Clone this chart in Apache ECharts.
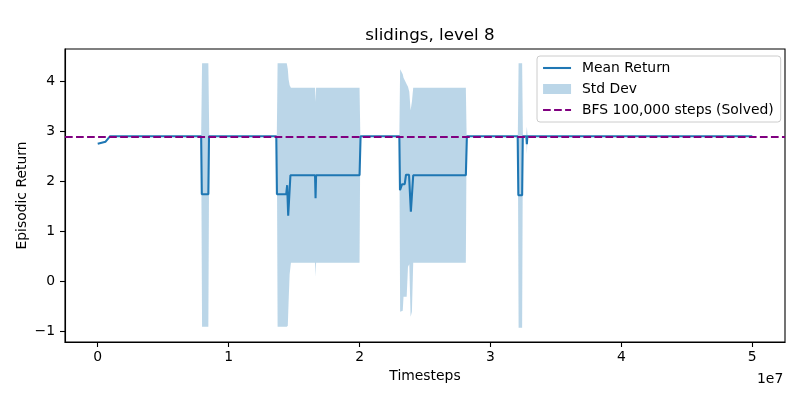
<!DOCTYPE html>
<html>
<head>
<meta charset="utf-8">
<script src="https://cdn.jsdelivr.net/npm/echarts@6/dist/echarts.min.js"></script>
<style>html,body{margin:0;padding:0;background:#fff}#c{width:800px;height:400px}</style>
</head>
<body>
<div id="c"></div>
<script>
// ---- data ----
const meanX = [0, 0.3e6, 0.6e6, 0.75e6, 0.95e6,
  7.90e6, 7.95e6, 8.45e6, 8.50e6,
  13.64e6, 13.69e6, 14.40e6, 14.47e6, 14.55e6, 14.72e6, 16.60e6, 16.64e6, 16.68e6, 20.00e6, 20.08e6,
  23.04e6, 23.09e6, 23.20e6, 23.25e6, 23.45e6, 23.55e6, 23.78e6, 23.92e6, 24.10e6, 28.12e6, 28.20e6,
  32.08e6, 32.13e6, 32.42e6, 32.47e6, 32.74e6, 32.78e6, 32.82e6, 50.0e6];
const meanY = [2.76, 2.78, 2.80, 2.82, 2.91,
  2.91, 1.75, 1.75, 2.91,
  2.91, 1.75, 1.75, 1.93, 1.32, 2.13, 2.13, 1.67, 2.13, 2.13, 2.91,
  2.91, 1.83, 1.83, 1.95, 1.95, 2.14, 2.14, 1.40, 2.13, 2.13, 2.91,
  2.91, 1.73, 1.73, 2.91, 2.91, 2.75, 2.91, 2.91];

const bandX = [0, 0.95e6,
  7.90e6, 7.97e6, 8.45e6, 8.52e6,
  13.68e6, 13.74e6, 14.44e6, 14.52e6, 14.58e6, 14.66e6, 14.76e6, 16.60e6, 16.64e6, 16.68e6, 20.00e6, 20.06e6,
  23.04e6, 23.10e6, 23.30e6, 23.36e6, 23.60e6, 23.70e6, 23.80e6, 23.90e6, 24.00e6, 24.10e6, 28.12e6, 28.18e6,
  32.09e6, 32.15e6, 32.42e6, 32.48e6, 32.72e6, 32.78e6, 32.84e6, 50.0e6];
const bandLow = [2.76, 2.91,
  2.91, -0.90, -0.90, 2.91,
  2.91, -0.90, -0.90, -0.88, -0.40, 0.15, 0.38, 0.38, 0.10, 0.38, 0.38, 2.91,
  2.91, -0.60, -0.58, -0.30, -0.30, 0.30, 0.35, -0.70, -0.60, 0.38, 0.38, 2.91,
  2.91, -0.92, -0.92, 2.91, 2.91, 2.55, 2.91, 2.91];
const bandHigh = [2.76, 2.91,
  2.91, 4.37, 4.37, 2.91,
  2.91, 4.37, 4.37, 4.25, 4.05, 3.93, 3.88, 3.88, 3.60, 3.88, 3.88, 2.91,
  2.91, 4.25, 4.15, 4.08, 3.95, 3.90, 3.80, 3.43, 3.60, 3.88, 3.88, 2.91,
  2.91, 4.37, 4.37, 2.91, 2.91, 3.10, 2.91, 2.91];

const bfsValue = 2.89;
const xTicks = [0, 1e7, 2e7, 3e7, 4e7, 5e7];
const yTicks = [-1, 0, 1, 2, 3, 4];

// ---- build ----
const meanData = meanX.map((x, i) => [x, meanY[i]]);
const bandData = bandX.map((x, i) => [x, bandLow[i], bandHigh[i]]);

const FONT = 'DejaVu Sans';
const LW = 2.08;           // 1.5pt at 100 dpi
const DASH = [7.7, 3.33];  // matplotlib '--' scaled by lw
const BAND = 'rgba(31,119,180,0.3)';

function renderBand(params, api) {
  if (params.dataIndex !== 0) return null;
  const upper = [], lower = [];
  for (let i = 0; i < bandData.length; i++) {
    const x = api.value(0, i);
    upper.push(api.coord([x, api.value(2, i)]));
    lower.push(api.coord([x, api.value(1, i)]));
  }
  const pts = upper.concat(lower.reverse());
  return {
    type: 'polygon',
    shape: {points: pts},
    style: {fill: BAND, stroke: null},
    silent: true
  };
}

const chart = echarts.init(document.getElementById('c'), null, {renderer: 'canvas'});
chart.setOption({
  animation: false,
  backgroundColor: '#fff',
  title: [
    {text: 'slidings, level 8', left: 425, textAlign: 'center', top: 22,
     textStyle: {fontFamily: FONT, fontSize: 16.7, fontWeight: 'normal', color: '#000'}},
    {text: '1e7', left: 752, top: 367,
     textStyle: {fontFamily: FONT, fontSize: 13.9, fontWeight: 'normal', color: '#000'}}
  ],
  grid: {left: 65, right: 15, top: 49, bottom: 58, show: true, borderColor: '#000', borderWidth: 1.1, containLabel: false},
  legend: {
    orient: 'vertical', left: 537, top: 56,
    padding: [4, 7, 4, 5], itemGap: 5, itemWidth: 28, itemHeight: 10,
    backgroundColor: 'rgba(255,255,255,0.8)', borderColor: '#cccccc', borderWidth: 1, borderRadius: 3,
    textStyle: {fontFamily: FONT, fontSize: 13.9, color: '#000', padding: [0, 0, 0, 6], lineHeight: 16},
    data: [
      {name: 'Mean Return', itemStyle: {opacity: 0}, lineStyle: {color: '#1f77b4', width: LW}},
      {name: 'Std Dev', icon: 'rect', itemStyle: {color: BAND}},
      {name: 'BFS 100,000 steps (Solved)', itemStyle: {opacity: 0}, lineStyle: {type: DASH, color: '#800080', width: LW}}
    ]
  },
  xAxis: {
    type: 'value', min: -2.5e6, max: 5.25e7,
    name: 'Timesteps', nameLocation: 'middle', nameGap: 27, nameMoveOverlap: false,
    nameTextStyle: {fontFamily: FONT, fontSize: 13.9, color: '#000'},
    axisLine: {show: true, onZero: false, lineStyle: {color: '#000', width: 1.1}},
    axisTick: {show: true, length: 5, lineStyle: {color: '#000', width: 1.1}, customValues: xTicks},
    axisLabel: {fontFamily: FONT, fontSize: 13.9, color: '#000', margin: 8, customValues: xTicks,
      formatter: v => String(Math.round(v / 1e7))},
    splitLine: {show: false}
  },
  yAxis: {
    type: 'value', min: -1.206, max: 4.654,
    name: 'Episodic Return', nameLocation: 'middle', nameGap: 36, nameRotate: 90, nameMoveOverlap: false,
    nameTextStyle: {fontFamily: FONT, fontSize: 13.9, color: '#000'},
    axisLine: {show: true, onZero: false, lineStyle: {color: '#000', width: 1.1}},
    axisTick: {show: true, length: 5, lineStyle: {color: '#000', width: 1.1}, customValues: yTicks},
    axisLabel: {fontFamily: FONT, fontSize: 13.9, color: '#000', margin: 10, customValues: yTicks,
      formatter: v => String(Math.round(v)).replace('-', '\u2212')},
    splitLine: {show: false}
  },
  series: [
    {
      name: 'Mean Return', type: 'line', data: meanData, symbol: 'none', showSymbol: false,
      lineStyle: {color: '#1f77b4', width: LW}, itemStyle: {color: '#1f77b4'}, z: 2
    },
    {
      name: 'Std Dev', type: 'custom', data: bandData, renderItem: renderBand,
      encode: {x: 0, y: [1, 2]}, itemStyle: {color: BAND}, silent: true, z: 3
    },
    {
      name: 'BFS 100,000 steps (Solved)', type: 'line', data: [], symbol: 'none',
      lineStyle: {color: '#800080', width: LW, type: DASH}, itemStyle: {color: '#800080'}, z: 4,
      markLine: {
        silent: true, symbol: 'none', label: {show: false},
        lineStyle: {color: '#800080', width: LW, type: DASH},
        emphasis: {disabled: true},
        data: [{yAxis: bfsValue}]
      }
    }
  ]
});
</script>
</body>
</html>
